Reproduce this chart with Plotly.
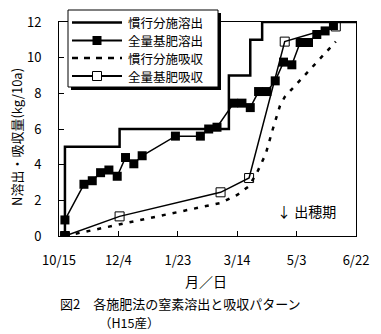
import plotly.graph_objects as go

# ---- data ----
tick_dates = ["2002-10-15", "2002-12-04", "2003-01-23", "2003-03-14", "2003-05-03", "2003-06-22"]
tick_labels = ["10/15", "12/4", "1/23", "3/14", "5/3", "6/22"]
y_ticks = [0, 2, 4, 6, 8, 10, 12]

names = ["慣行分施溶出", "全量基肥溶出", "慣行分施吸収", "全量基肥吸収"]

s1_x = ["2002-10-20", "2002-10-20", "2002-12-05", "2003-03-07", "2003-03-25", "2003-04-04", "2003-06-22"]
s1_y = [0, 5, 6, 9, 11, 12, 12]

s2_x = ["2002-10-20", "2002-10-20", "2002-11-05", "2002-11-12", "2002-11-19", "2002-11-26",
        "2002-12-03", "2002-12-10", "2002-12-17", "2002-12-24", "2003-01-21", "2003-02-11",
        "2003-02-18", "2003-02-25", "2003-03-11", "2003-03-18", "2003-03-25", "2003-04-01",
        "2003-04-08", "2003-04-15", "2003-04-22", "2003-04-29", "2003-05-06", "2003-05-13",
        "2003-05-20", "2003-05-27", "2003-06-03"]
s2_y = [0, 0.9, 2.9, 3.1, 3.55, 3.7, 3.35, 4.4, 4.05, 4.5, 5.6, 5.6, 6.0, 6.1, 7.45, 7.45,
        7.2, 8.1, 8.1, 8.7, 9.75, 9.6, 10.85, 10.85, 11.3, 11.5, 11.8]

s3_x = ["2002-10-20", "2003-02-28", "2003-03-14", "2003-03-24", "2003-03-31", "2003-04-07",
        "2003-04-13", "2003-04-19", "2003-04-23", "2003-06-05"]
s3_y = [0, 1.85, 2.3, 2.8, 3.6, 4.6, 6.0, 7.3, 7.8, 10.9]

s4_x = ["2002-10-20", "2002-12-05", "2003-02-28", "2003-03-24", "2003-04-23", "2003-06-05"]
s4_y = [0, 1.1, 2.45, 3.25, 10.9, 11.75]

FONT = "Noto Sans CJK JP"
W, H = 381, 334
L, R, T, B = 59, 25, 22, 98
PW, PH = W - L - R, H - T - B


def px(xp):
    return (xp - L) / PW


def py(yp):
    return (H - B - yp) / PH


fig = go.Figure()
fig.add_trace(go.Scatter(x=s1_x, y=s1_y, name=names[0], mode="lines", line_shape="hv",
                         line=dict(color="black", width=2.5)))
fig.add_trace(go.Scatter(x=s2_x, y=s2_y, name=names[1], mode="lines+markers",
                         line=dict(color="black", width=1.5),
                         marker=dict(symbol="square", size=9, color="black")))
fig.add_trace(go.Scatter(x=s3_x, y=s3_y, name=names[2], mode="lines",
                         line=dict(color="black", width=2.5, dash="4px,7px")))
fig.add_trace(go.Scatter(x=s4_x, y=s4_y, name=names[3], mode="lines+markers",
                         line=dict(color="black", width=1.5),
                         marker=dict(symbol="square-open", size=9, color="black",
                                     line=dict(width=1, color="black"))))

# ---- hand-drawn legend box (Excel style with shadow) ----
shapes = []
lx0, lx1, ly0, ly1 = 68, 218, 10, 87
shapes.append(dict(type="rect", xref="paper", yref="paper", layer="above",
                   x0=px(lx0 + 3), x1=px(lx1 + 3), y0=py(ly1 + 3), y1=py(ly0 + 3),
                   fillcolor="black", line=dict(width=0)))
shapes.append(dict(type="rect", xref="paper", yref="paper", layer="above",
                   x0=px(lx0), x1=px(lx1), y0=py(ly1), y1=py(ly0),
                   fillcolor="white", line=dict(color="black", width=1)))
rows = [22.5, 40.5, 58, 76]
styles = [dict(width=2.5, dash="solid"), dict(width=2, dash="solid"),
          dict(width=2.5, dash="6px,6px"), dict(width=2, dash="solid")]
annotations = []
for i, (ry, st) in enumerate(zip(rows, styles)):
    shapes.append(dict(type="line", xref="paper", yref="paper", layer="above",
                       x0=px(72), x1=px(122), y0=py(ry), y1=py(ry),
                       line=dict(color="black", **st)))
    annotations.append(dict(text=names[i], xref="paper", yref="paper", x=px(126), y=py(ry),
                            xanchor="left", yanchor="middle", showarrow=False,
                            font=dict(size=12.5)))
# legend marker samples
shapes.append(dict(type="rect", xref="paper", yref="paper", layer="above",
                   x0=px(92.5), x1=px(101.5), y0=py(rows[1] + 4.5), y1=py(rows[1] - 4.5),
                   fillcolor="black", line=dict(width=0)))
shapes.append(dict(type="rect", xref="paper", yref="paper", layer="above",
                   x0=px(92.5), x1=px(101.5), y0=py(rows[3] + 4.5), y1=py(rows[3] - 4.5),
                   fillcolor="white", line=dict(color="black", width=1)))

annotations += [
    dict(text="N溶出・吸収量(kg/10a)", xref="paper", yref="paper", x=px(16), y=py(137),
         xanchor="center", yanchor="middle", textangle=-90, showarrow=False, font=dict(size=13)),
    dict(text="月／日", xref="paper", yref="paper", x=px(206), y=py(281),
         xanchor="center", yanchor="middle", showarrow=False, font=dict(size=14)),
    dict(text="図2　各施肥法の窒素溶出と吸収パターン", xref="paper", yref="paper",
         x=px(58), y=py(303.5), xanchor="left", yanchor="middle",
         showarrow=False, font=dict(size=13)),
    dict(text="（H15産）", xref="paper", yref="paper",
         x=px(97), y=py(322.5), xanchor="left", yanchor="middle",
         showarrow=False, font=dict(size=12.5)),
    dict(text="↓ 出穂期", xref="paper", yref="paper", x=px(306), y=py(211),
         xanchor="center", yanchor="middle", showarrow=False, font=dict(size=14)),
]

fig.update_layout(
    width=W, height=H,
    margin=dict(l=L, r=R, t=T, b=B),
    paper_bgcolor="white", plot_bgcolor="white",
    font=dict(family=FONT, size=13, color="black"),
    showlegend=False,
    shapes=shapes,
    annotations=annotations,
    xaxis=dict(type="date", range=["2002-10-15", "2003-06-22"],
               tickvals=tick_dates, ticktext=tick_labels,
               ticks="inside", ticklen=5, tickcolor="black",
               showline=True, linecolor="black", linewidth=1, mirror=True,
               showgrid=False, zeroline=False, ticklabelstandoff=12,
               tickfont=dict(family=FONT, size=13)),
    yaxis=dict(range=[0, 12], tickvals=y_ticks,
               ticks="inside", ticklen=5, tickcolor="black",
               showline=True, linecolor="black", linewidth=1, mirror=True,
               showgrid=False, zeroline=False, ticklabelstandoff=14,
               tickfont=dict(family=FONT, size=13)),
)

fig.write_html("out.html")
